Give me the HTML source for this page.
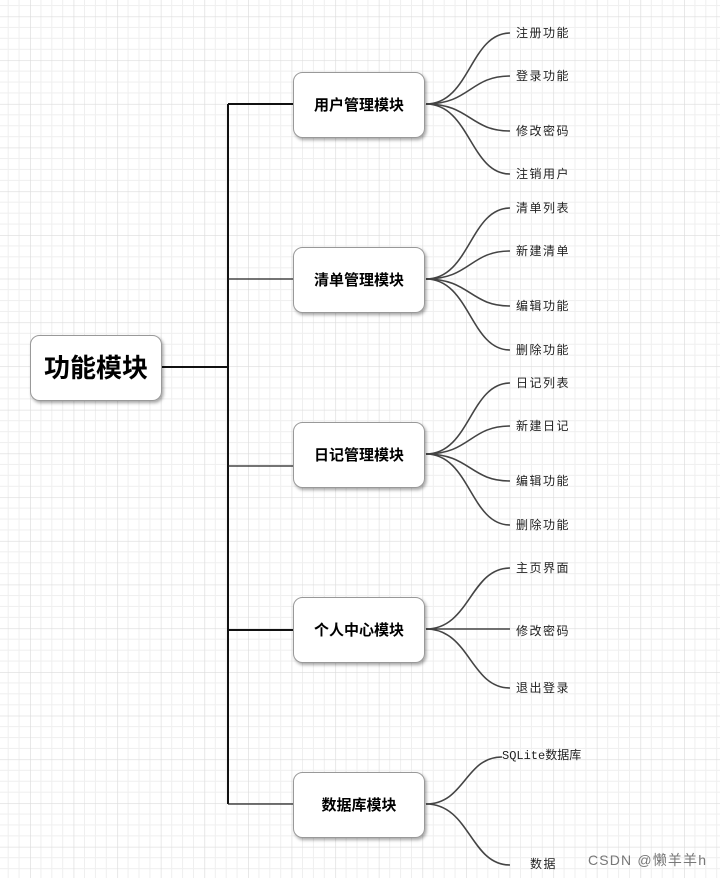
<!DOCTYPE html>
<html><head><meta charset="utf-8"><style>
html,body{margin:0;padding:0;background:#fff;}
svg{display:block;}
text{font-family:"Liberation Sans","Noto Sans CJK SC",sans-serif;}
</style></head><body>
<svg width="720" height="878" viewBox="0 0 720 878" xmlns="http://www.w3.org/2000/svg">
<defs>
<pattern id="g" x="-13.6" y="-27.2" width="43.6" height="43.7" patternUnits="userSpaceOnUse">
<path d="M10.9 0V43.7M21.8 0V43.7M32.7 0V43.7M0 10.9H43.6M0 21.85H43.6M0 32.8H43.6" stroke="#efefef" stroke-width="1" fill="none"/>
<path d="M0 0V43.7M0 0H43.6" stroke="#dcdcdc" stroke-width="1.3" fill="none"/>
</pattern>
<filter id="sh" x="-20%" y="-20%" width="140%" height="150%">
<feDropShadow dx="1.5" dy="2" stdDeviation="1.5" flood-color="#000" flood-opacity="0.35"/>
</filter>
</defs>
<rect width="720" height="878" fill="#fff"/>
<rect width="720" height="878" fill="url(#g)"/>

<g stroke="#111" fill="none" stroke-width="2">
<path d="M161 367H228"/>
<path d="M228 104V804"/>
<path d="M228 104H293"/>
<path d="M228 630H293"/>
</g>
<g stroke="#222" fill="none" stroke-width="1.2">
<path d="M228 279H293M228 466H293M228 804H293"/>
</g>

<g stroke="#444" fill="none" stroke-width="1.6">
<path d="M426 104C470 104 470 33 510 33"/>
<path d="M426 104C470 104 470 76 510 76"/>
<path d="M426 104C470 104 470 131 510 131"/>
<path d="M426 104C470 104 470 174 510 174"/>
<path d="M426 279C470 279 470 208 510 208"/>
<path d="M426 279C470 279 470 251 510 251"/>
<path d="M426 279C470 279 470 306 510 306"/>
<path d="M426 279C470 279 470 350 510 350"/>
<path d="M426 454C470 454 470 383 510 383"/>
<path d="M426 454C470 454 470 426 510 426"/>
<path d="M426 454C470 454 470 481 510 481"/>
<path d="M426 454C470 454 470 525 510 525"/>
<path d="M426 629C470 629 470 568 510 568"/>
<path d="M426 629H510"/>
<path d="M426 629C470 629 470 688 510 688"/>
<path d="M426 804C465 804 465 757 502 757"/>
<path d="M426 804C470 804 470 865 510 865"/>
</g>

<g filter="url(#sh)" fill="#fff" stroke="#999" stroke-width="1">
<rect x="30.5" y="335.5" width="131" height="65" rx="9"/>
<rect x="293.5" y="72.5" width="131" height="65" rx="9"/>
<rect x="293.5" y="247.5" width="131" height="65" rx="9"/>
<rect x="293.5" y="422.5" width="131" height="65" rx="9"/>
<rect x="293.5" y="597.5" width="131" height="65" rx="9"/>
<rect x="293.5" y="772.5" width="131" height="65" rx="9"/>
</g>

<g font-weight="bold" fill="#000" text-anchor="middle">
<text x="96" y="377" font-size="26">功能模块</text>
<text x="359" y="110" font-size="15">用户管理模块</text>
<text x="359" y="285" font-size="15">清单管理模块</text>
<text x="359" y="460" font-size="15">日记管理模块</text>
<text x="359" y="635" font-size="15">个人中心模块</text>
<text x="359" y="810" font-size="15">数据库模块</text>
</g>

<g font-size="12" fill="#222" letter-spacing="1.5">
<text x="516" y="37">注册功能</text>
<text x="516" y="80">登录功能</text>
<text x="516" y="135">修改密码</text>
<text x="516" y="178">注销用户</text>
<text x="516" y="212">清单列表</text>
<text x="516" y="255">新建清单</text>
<text x="516" y="310">编辑功能</text>
<text x="516" y="354">删除功能</text>
<text x="516" y="387">日记列表</text>
<text x="516" y="430">新建日记</text>
<text x="516" y="485">编辑功能</text>
<text x="516" y="529">删除功能</text>
<text x="516" y="572">主页界面</text>
<text x="516" y="635">修改密码</text>
<text x="516" y="692">退出登录</text>
<text x="502" y="759" letter-spacing="0" style="font-family:'Liberation Mono','Noto Sans CJK SC',monospace">SQLite数据库</text>
<text x="530" y="868">数据</text>
</g>
<text x="588" y="865" font-size="14" fill="#777" textLength="118">CSDN @懒羊羊h</text>
</svg>
</body></html>
